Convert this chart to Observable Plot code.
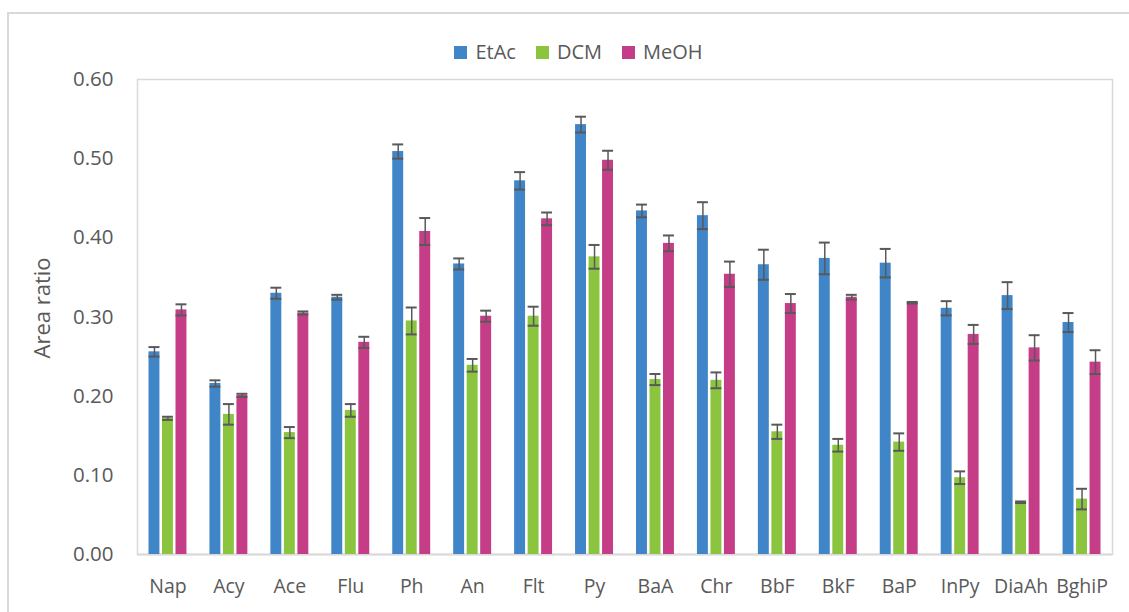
<!DOCTYPE html>
<html>
<head>
<meta charset="utf-8">
<script src="https://cdn.jsdelivr.net/npm/d3@7"></script>
<script src="https://cdn.jsdelivr.net/npm/@observablehq/plot@0.6"></script>
<style>
  html, body { margin: 0; padding: 0; background: #fff; overflow: hidden; }
  #wrap { position: relative; width: 1129px; height: 612px; font-family: "Open Sans", sans-serif; color: #595959; }
  #outer { position: absolute; left: 7px; top: 12px; width: 1140px; height: 620px; border: 2px solid #d9d9d9; box-sizing: border-box; }
  #chart { position: absolute; left: 0; top: 0; }
  #legend { position: absolute; left: 0; width: 1129px; top: 39px; display: flex; justify-content: center; gap: 20px; font-size: 20px; line-height: 26px; padding-left: 28px; box-sizing: border-box; }
  #legend .item { display: flex; align-items: center; gap: 8px; }
  #legend .sw { width: 13px; height: 13px; display: inline-block; }
  #ytitle { position: absolute; left: 41px; top: 308px; transform: translate(-50%, -50%) rotate(-90deg); font-size: 22px; white-space: nowrap; }
</style>
</head>
<body>
<div id="wrap">
  <div id="outer"></div>
  <div id="chart"></div>
  <div id="legend"></div>
  <div id="ytitle">Area ratio</div>
</div>
<script>
const categories = ["Nap","Acy","Ace","Flu","Ph","An","Flt","Py","BaA","Chr","BbF","BkF","BaP","InPy","DiaAh","BghiP"];
const seriesNames = ["EtAc","DCM","MeOH"];
const seriesColors = ["#3F85C8","#8BC53F","#C63D87"];
const etac    = [0.256,0.216,0.330,0.325,0.509,0.367,0.472,0.543,0.434,0.428,0.366,0.374,0.368,0.311,0.327,0.293];
const etacErr = [0.006,0.004,0.007,0.003,0.009,0.007,0.011,0.010,0.008,0.017,0.019,0.020,0.018,0.009,0.017,0.012];
const dcm     = [0.172,0.177,0.154,0.182,0.295,0.239,0.301,0.376,0.221,0.220,0.155,0.138,0.142,0.097,0.066,0.070];
const dcmErr  = [0.002,0.013,0.007,0.008,0.017,0.008,0.012,0.015,0.007,0.010,0.009,0.008,0.011,0.008,0.001,0.013];
const meoh    = [0.309,0.201,0.305,0.268,0.408,0.301,0.424,0.498,0.393,0.354,0.317,0.325,0.318,0.278,0.261,0.243];
const meohErr = [0.007,0.002,0.002,0.007,0.017,0.007,0.008,0.012,0.010,0.016,0.012,0.003,0.001,0.012,0.016,0.015];
const yTicks = [0, 0.1, 0.2, 0.3, 0.4, 0.5, 0.6];

const values = [etac, dcm, meoh];
const errors = [etacErr, dcmErr, meohErr];

const marks = [];
const offsets = [-13.5, 0, 13.5];
seriesNames.forEach((s, i) => {
  const rows = categories.map((c, j) => ({cat: c, series: s, value: values[i][j], err: errors[i][j]}));
  marks.push(Plot.barY(rows, {x: "cat", y: "value", fill: seriesColors[i], insetLeft: 25, insetRight: 25, dx: offsets[i]}));
  marks.push(Plot.ruleX(rows, {x: "cat", y1: d => d.value - d.err, y2: d => d.value + d.err, dx: offsets[i], stroke: "#595959", strokeWidth: 1.5}));
  marks.push(Plot.tickY(rows, {x: "cat", y: d => d.value + d.err, dx: offsets[i], insetLeft: 25, insetRight: 25, stroke: "#595959", strokeWidth: 2}));
  marks.push(Plot.tickY(rows, {x: "cat", y: d => d.value - d.err, dx: offsets[i], insetLeft: 25, insetRight: 25, stroke: "#595959", strokeWidth: 2}));
});

const chart = Plot.plot({
  width: 1129,
  height: 612,
  marginLeft: 137,
  marginRight: 17,
  marginTop: 79,
  marginBottom: 58,
  style: {fontFamily: "Open Sans, sans-serif", fontSize: "19.5px", color: "#595959", background: "transparent", overflow: "visible"},
  x: {domain: categories, padding: 0, round: false, label: null},
  y: {domain: [0, 0.6], label: null},
  marks: [
    Plot.frame({stroke: "#d9d9d9", strokeWidth: 1.5}),
    Plot.ruleY([0], {stroke: "#d9d9d9", strokeWidth: 2}),
    Plot.axisX({tickSize: 0, tickPadding: 25, fontSize: 19.5, label: null}),
    Plot.axisY(yTicks, {tickSize: 0, tickPadding: 24, tickFormat: d3.format(".2f"), fontSize: 20.5, label: null}),
    ...marks
  ]
});
document.getElementById("chart").appendChild(chart);

const legend = document.getElementById("legend");
seriesNames.forEach((s, i) => {
  const item = document.createElement("div");
  item.className = "item";
  const sw = document.createElement("span");
  sw.className = "sw";
  sw.style.background = seriesColors[i];
  const lab = document.createElement("span");
  lab.textContent = s;
  item.appendChild(sw);
  item.appendChild(lab);
  legend.appendChild(item);
});
</script>
</body>
</html>
